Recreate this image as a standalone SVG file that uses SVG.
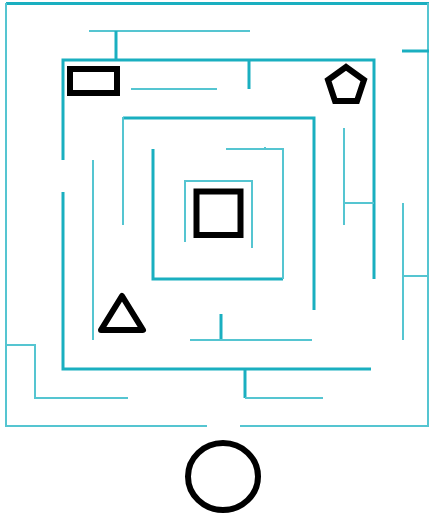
<svg xmlns="http://www.w3.org/2000/svg" width="429" height="516" viewBox="0 0 429 516">
<style>
.w{fill:none;stroke:#1aafc0;stroke-width:3}
.t{fill:none;stroke:#55c5d1;stroke-width:2}
.s{fill:none;stroke:#000;stroke-width:6}
</style>
<rect width="429" height="516" fill="#fff"/>
<g id="walls">
<line class="w" x1="6" y1="3.5" x2="429" y2="3.5"/>
<line class="t" x1="6" y1="3" x2="6" y2="427"/>
<line class="t" x1="428" y1="3" x2="428" y2="427"/>
<line class="t" x1="6" y1="426" x2="207" y2="426"/>
<line class="t" x1="240" y1="426" x2="429" y2="426"/>
<line class="t" x1="89" y1="31" x2="250" y2="31"/>
<line class="w" x1="116" y1="31" x2="116" y2="60"/>
<polyline class="w" points="63,160 63,60 374,60 374,279"/>
<polyline class="w" points="63,192 63,369 371,369"/>
<line class="w" x1="249" y1="60" x2="249" y2="89"/>
<line class="t" x1="131" y1="89" x2="217" y2="89"/>
<polyline class="w" points="123,118 314,118 314,310"/>
<line class="t" x1="123" y1="117" x2="123" y2="225"/>
<line class="t" x1="93" y1="160" x2="93" y2="340"/>
<polyline class="w" points="153,149 153,279 283,279"/>
<polyline class="t" points="226,149 283,149 283,279"/>
<line class="t" x1="265" y1="147" x2="265" y2="149"/>
<polyline class="t" points="185,242 185,181 252,181 252,248"/>
<line class="t" x1="344" y1="128" x2="344" y2="225"/>
<line class="t" x1="344" y1="203" x2="374" y2="203"/>
<line class="w" x1="402" y1="51" x2="429" y2="51"/>
<line class="t" x1="403" y1="203" x2="403" y2="340"/>
<line class="t" x1="403" y1="276" x2="429" y2="276"/>
<line class="w" x1="221" y1="314" x2="221" y2="340"/>
<line class="t" x1="190" y1="340" x2="312" y2="340"/>
<polyline class="t" points="6,345 35,345 35,398 128,398"/>
<line class="w" x1="245" y1="369" x2="245" y2="398"/>
<line class="t" x1="245" y1="398" x2="323" y2="398"/>
</g>
<g id="rectangle"><rect class="s" x="70" y="69" width="47" height="24"/></g>
<g id="pentagon"><polygon class="s" points="346,67 364,80 357,101 335,101 328,80"/></g>
<g id="square"><rect class="s" x="196.5" y="191.5" width="44" height="43.5"/></g>
<g id="triangle"><polygon class="s" stroke-linejoin="round" points="122,296 143,330 101,330"/></g>
<g id="circle"><ellipse class="s" cx="223" cy="476.5" rx="35" ry="33.5"/></g>
</svg>
